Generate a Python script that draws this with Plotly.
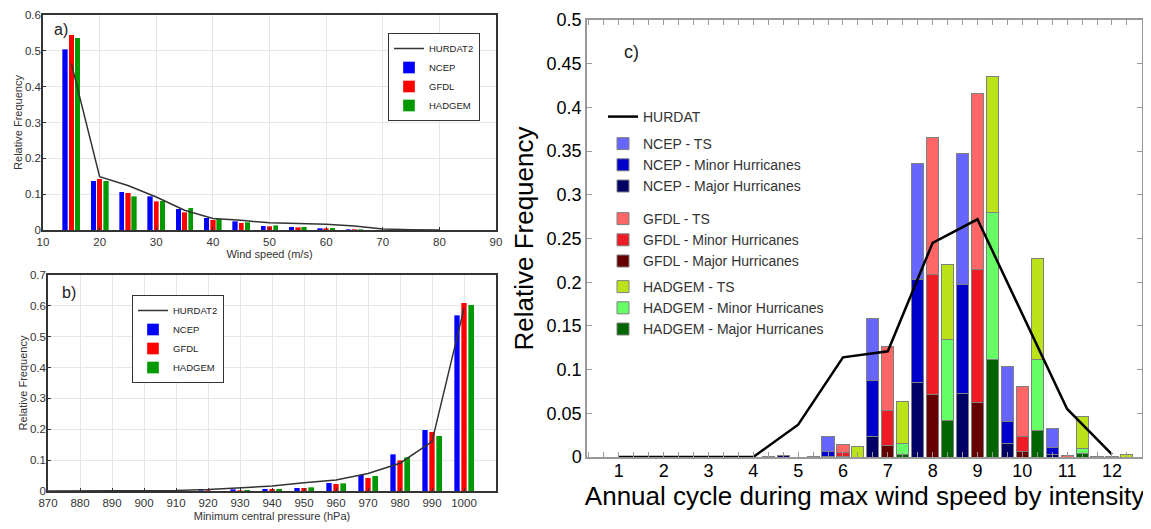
import plotly.graph_objects as go

FONT = "Liberation Sans, Arial, sans-serif"
W, H = 1151, 529
PAGE_OFFSET = 8  # default page margin of the html body

# ---------------- Panel a : wind speed ----------------
wind_bins = [15, 20, 25, 30, 35, 40, 45, 50, 55, 60, 65, 70, 75, 80]
wind_ncep = [0.504, 0.137, 0.107, 0.094, 0.060, 0.034, 0.025, 0.012, 0.009, 0.005, 0.002, 0.001, 0.0, 0.0]
wind_gfdl = [0.545, 0.143, 0.104, 0.080, 0.050, 0.028, 0.020, 0.011, 0.008, 0.005, 0.002, 0.001, 0.0, 0.0]
wind_hadgem = [0.537, 0.137, 0.094, 0.081, 0.062, 0.032, 0.022, 0.013, 0.009, 0.006, 0.002, 0.001, 0.0, 0.0]
wind_hurdat2 = [0.465, 0.149, 0.124, 0.092, 0.055, 0.032, 0.027, 0.020, 0.018, 0.016, 0.011, 0.003, 0.001, 0.0]
wind_ticks = [10, 20, 30, 40, 50, 60, 70, 80, 90]
freq_ticks_a = [0, 0.1, 0.2, 0.3, 0.4, 0.5, 0.6]

# ---------------- Panel b : minimum central pressure ----------------
pres_bins = [870, 880, 890, 900, 910, 920, 930, 940, 950, 960, 970, 980, 990, 1000]
pres_ncep = [0, 0, 0, 0, 0, 0.002, 0.005, 0.008, 0.011, 0.027, 0.052, 0.119, 0.198, 0.570]
pres_gfdl = [0, 0, 0, 0, 0, 0.002, 0.003, 0.007, 0.010, 0.023, 0.043, 0.099, 0.192, 0.610]
pres_hadgem = [0, 0, 0, 0, 0, 0.001, 0.004, 0.008, 0.012, 0.025, 0.049, 0.109, 0.179, 0.603]
pres_hurdat2 = [0, 0, 0, 0.001, 0.002, 0.005, 0.010, 0.016, 0.027, 0.036, 0.057, 0.090, 0.160, 0.592]
pres_ticks = [870, 880, 890, 900, 910, 920, 930, 940, 950, 960, 970, 980, 990, 1000]
freq_ticks_b = [0, 0.1, 0.2, 0.3, 0.4, 0.5, 0.6, 0.7]

# ---------------- Panel c : annual cycle by intensity ----------------
months = [1, 2, 3, 4, 5, 6, 7, 8, 9, 10, 11, 12]
hurdat = [0, 0, 0, 0, 0.037, 0.114, 0.121, 0.245, 0.272, 0.163, 0.055, 0.003]
ncep_ts = [0, 0, 0, 0, 0, 0.017, 0.071, 0.133, 0.150, 0.063, 0.022, 0.001]
ncep_minor = [0, 0, 0, 0, 0, 0.005, 0.064, 0.118, 0.124, 0.026, 0.008, 0]
ncep_major = [0, 0, 0, 0, 0.002, 0.001, 0.023, 0.085, 0.073, 0.015, 0.003, 0]
gfdl_ts = [0, 0, 0, 0, 0, 0.009, 0.074, 0.156, 0.201, 0.058, 0.002, 0.001]
gfdl_minor = [0, 0, 0, 0, 0, 0.004, 0.040, 0.137, 0.153, 0.017, 0, 0]
gfdl_major = [0, 0, 0, 0, 0, 0.001, 0.013, 0.072, 0.062, 0.006, 0, 0]
hadgem_ts = [0, 0, 0, 0.001, 0.001, 0.012, 0.048, 0.086, 0.155, 0.116, 0.036, 0.003]
hadgem_minor = [0, 0, 0, 0, 0, 0, 0.013, 0.092, 0.169, 0.081, 0.006, 0]
hadgem_major = [0, 0, 0, 0, 0, 0, 0.003, 0.042, 0.111, 0.030, 0.004, 0]
freq_ticks_c = [0, 0.05, 0.1, 0.15, 0.2, 0.25, 0.3, 0.35, 0.4, 0.45, 0.5]

fig = go.Figure()

# ---- panel a/b bars ----
col_ab = {"NCEP": "#0000FF", "GFDL": "#FF0000", "HADGEM": "#009A00"}
shift_a = {"NCEP": -1.1, "GFDL": 0.0, "HADGEM": 1.1}
shift_b = {"NCEP": -2.25, "GFDL": 0.0, "HADGEM": 2.25}

fig.add_trace(go.Scatter(x=wind_bins, y=wind_hurdat2, mode="lines", name="HURDAT2",
                         line=dict(color="#333333", width=1.5), xaxis="x", yaxis="y",
                         legend="legend", legendrank=1))
for i, (name, vals) in enumerate([("NCEP", wind_ncep), ("GFDL", wind_gfdl), ("HADGEM", wind_hadgem)]):
    fig.add_trace(go.Bar(
        x=[b + shift_a[name] for b in wind_bins], y=vals, width=0.95,
        marker=dict(color=col_ab[name], line=dict(color="rgba(255,255,255,0.7)", width=0.5)),
        name=name, xaxis="x", yaxis="y", legend="legend", legendrank=2 + i))

fig.add_trace(go.Scatter(x=pres_bins, y=pres_hurdat2, mode="lines", name="HURDAT2",
                         line=dict(color="#333333", width=1.5), xaxis="x2", yaxis="y2",
                         legend="legend2", legendrank=1))
for i, (name, vals) in enumerate([("NCEP", pres_ncep), ("GFDL", pres_gfdl), ("HADGEM", pres_hadgem)]):
    fig.add_trace(go.Bar(
        x=[b + shift_b[name] for b in pres_bins], y=vals, width=1.75,
        marker=dict(color=col_ab[name], line=dict(color="rgba(255,255,255,0.7)", width=0.5)),
        name=name, xaxis="x2", yaxis="y2", legend="legend2", legendrank=2 + i))

# ---- panel c stacked bars ----
models_c = [
    ("NCEP", -1 / 3, "legend4",
     [("Major Hurricanes", ncep_major, "#000066"), ("Minor Hurricanes", ncep_minor, "#0000CC"), ("TS", ncep_ts, "#6666FF")]),
    ("GFDL", 0.0, "legend5",
     [("Major Hurricanes", gfdl_major, "#660000"), ("Minor Hurricanes", gfdl_minor, "#EE1C25"), ("TS", gfdl_ts, "#FF6666")]),
    ("HADGEM", 1 / 3, "legend6",
     [("Major Hurricanes", hadgem_major, "#006400"), ("Minor Hurricanes", hadgem_minor, "#66FF66"), ("TS", hadgem_ts, "#BBE31A")]),
]
rank = {"TS": 1, "Minor Hurricanes": 2, "Major Hurricanes": 3}
for model, shift, leg, layers in models_c:
    for label, vals, color in layers:
        fig.add_trace(go.Bar(
            x=[m + shift for m in months], y=vals, width=0.27,
            marker=dict(color=color, line=dict(color="#808080", width=1)),
            name=f"{model} - {label}", xaxis="x3", yaxis="y3",
            legend=leg, legendrank=rank[label]))
fig.add_trace(go.Scatter(x=months, y=hurdat, mode="lines", name="HURDAT",
                         line=dict(color="black", width=2.5), xaxis="x3", yaxis="y3",
                         legend="legend3"))

def px(xp):
    return (xp - PAGE_OFFSET) / W

def py(yp):
    return 1 - (yp - PAGE_OFFSET) / H

small_axis = dict(showgrid=True, gridcolor="#e6e6e6", gridwidth=1, showline=True, mirror=True,
                  linecolor="#333333", linewidth=1.5, ticks="inside", ticklen=3,
                  tickcolor="#333333", zeroline=False, automargin=False,
                  ticklabeloverflow="allow",
                  tickfont=dict(family=FONT, size=11.5, color="#333333"))

leg_small = dict(xanchor="left", yanchor="top", bgcolor="white", bordercolor="#333333",
                 borderwidth=1, font=dict(family=FONT, size=9.5, color="#222222"),
                 tracegroupgap=0, traceorder="normal")
leg_c = dict(xanchor="left", yanchor="top", bgcolor="rgba(0,0,0,0)", borderwidth=0,
             font=dict(family=FONT, size=14, color="#333333"), tracegroupgap=0,
             traceorder="normal")

fig.update_layout(
    width=W, height=H, margin=dict(l=0, r=0, t=0, b=0, autoexpand=False),
    paper_bgcolor="white", plot_bgcolor="white",
    barmode="stack", font=dict(family=FONT),
    xaxis=dict(domain=[px(43), px(496)], range=[10, 90], tickvals=wind_ticks,
               title=dict(text="Wind speed (m/s)", font=dict(family=FONT, size=11, color="#333333"), standoff=4),
               anchor="y", **small_axis),
    yaxis=dict(domain=[py(230), py(15)], range=[0, 0.6], tickvals=freq_ticks_a,
               ticktext=[f"{v:g}" for v in freq_ticks_a], ticklabelstandoff=-2,
               title=dict(text="Relative Frequency", font=dict(family=FONT, size=11, color="#333333"), standoff=0),
               anchor="x", **small_axis),
    xaxis2=dict(domain=[px(48), px(496)], range=[870, 1010], tickvals=pres_ticks,
                title=dict(text="Minimum central pressure (hPa)", font=dict(family=FONT, size=11, color="#333333"), standoff=5),
                anchor="y2", **small_axis),
    yaxis2=dict(domain=[py(491), py(275)], range=[0, 0.7], tickvals=freq_ticks_b,
                ticktext=[f"{v:g}" for v in freq_ticks_b], ticklabelstandoff=-2,
                title=dict(text="Relative Frequency", font=dict(family=FONT, size=11, color="#333333"), standoff=0),
                anchor="x2", **small_axis),
    xaxis3=dict(domain=[px(587), px(1142)], range=[0.29, 12.67], tickvals=months,
                showgrid=False, zeroline=False, showline=True, mirror="ticks", automargin=False,
                ticklabeloverflow="allow",
                linecolor="#999999", linewidth=1.5, ticks="inside", ticklen=5, tickcolor="#999999",
                minor=dict(dtick=1 / 3, tick0=0, ticks="inside", ticklen=5, tickcolor="#999999"),
                tickfont=dict(family=FONT, size=18, color="black"), ticklabelstandoff=-3,
                title=dict(text="Annual cycle during max wind speed by intensity",
                           font=dict(family=FONT, size=26, color="black"), standoff=0),
                anchor="y3"),
    yaxis3=dict(domain=[py(457), py(20)], range=[0, 0.5], tickvals=freq_ticks_c,
                ticktext=[f"{v:g}" for v in freq_ticks_c],
                showgrid=False, zeroline=False, showline=True, mirror="ticks", automargin=False,
                ticklabeloverflow="allow",
                linecolor="#999999", linewidth=1.5, ticks="inside", ticklen=5, tickcolor="#999999",
                tickfont=dict(family=FONT, size=18, color="black"),
                title=dict(text="Relative Frequency", font=dict(family=FONT, size=26, color="black"), standoff=6),
                anchor="x3"),
    legend=dict(x=px(388), y=py(33), **leg_small),
    legend2=dict(x=px(132), y=py(295), **leg_small),
    legend3=dict(x=px(603), y=py(101), **leg_c),
    legend4=dict(x=px(603), y=py(128), **leg_c),
    legend5=dict(x=px(603), y=py(203), **leg_c),
    legend6=dict(x=px(603), y=py(271), **leg_c),
    annotations=[
        dict(text="a)", x=px(52), y=py(30), xref="paper", yref="paper", showarrow=False,
             xanchor="left", yanchor="middle", font=dict(family=FONT, size=16, color="#222222")),
        dict(text="b)", x=px(60), y=py(292), xref="paper", yref="paper", showarrow=False,
             xanchor="left", yanchor="middle", font=dict(family=FONT, size=16, color="#222222")),
        dict(text="c)", x=px(622), y=py(52), xref="paper", yref="paper", showarrow=False,
             xanchor="left", yanchor="middle", font=dict(family=FONT, size=18, color="#222222")),
    ],
)

fig.write_html("out.html")
